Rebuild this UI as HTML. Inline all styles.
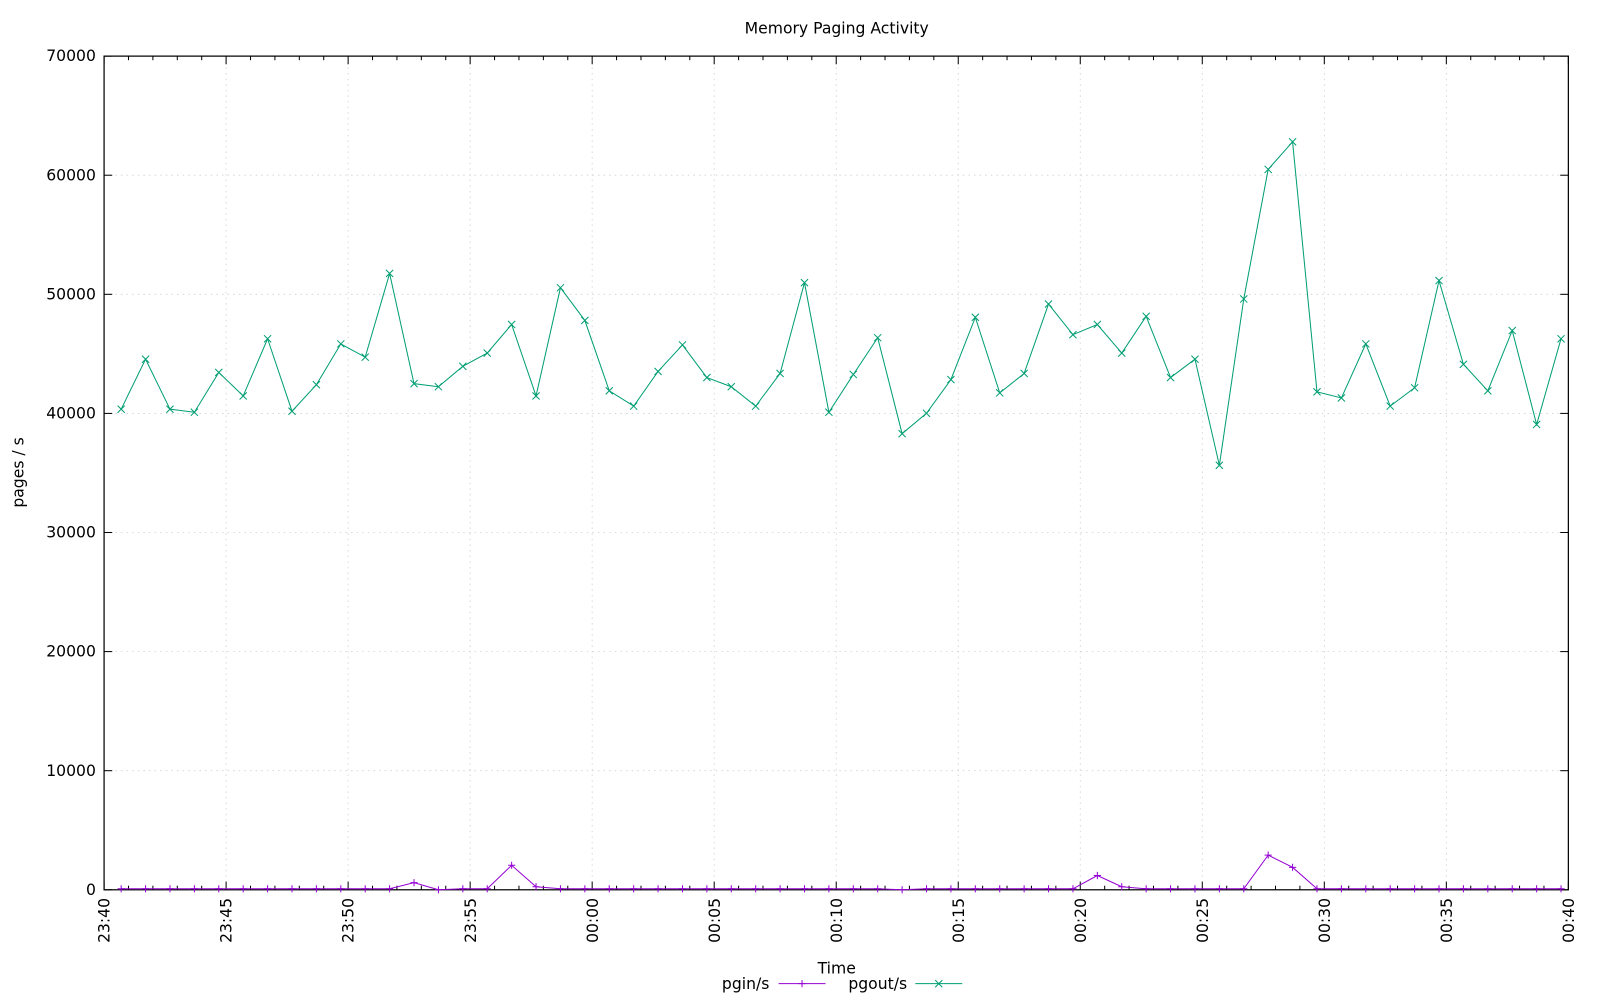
<!DOCTYPE html>
<html><head><meta charset="utf-8"><style>
html,body{margin:0;padding:0;background:#fff;}
svg{display:block;font-family:"DejaVu Sans","Liberation Sans",sans-serif;}
</style></head><body>
<svg id="s" width="1600" height="1000" xmlns="http://www.w3.org/2000/svg">
<rect width="1600" height="1000" fill="#fff"/>
<g id="g" transform="scale(1.0204)"></g>
</svg>
<script>
const NS="http://www.w3.org/2000/svg";
const g=document.getElementById('g');
function el(t,a,txt){const e=document.createElementNS(NS,t);for(const k in a)e.setAttribute(k,a[k]);if(txt!==undefined)e.textContent=txt;g.appendChild(e);return e;}
const L=102,R=1537,T=55,B=872;
const ppm=(R-L)/60;
const FS=15.3;
for(let i=1;i<7;i++){const y=B-i*(B-T)/7;el('line',{x1:L,x2:R,y1:y,y2:y,stroke:'#d0d0d0','stroke-width':0.8,'stroke-dasharray':'1.5,4'});}
for(let i=1;i<12;i++){const x=L+i*5*ppm;el('line',{x1:x,x2:x,y1:T,y2:B,stroke:'#d0d0d0','stroke-width':0.8,'stroke-dasharray':'1.5,4'});}
for(let i=0;i<=7;i++){const y=B-i*(B-T)/7;
 el('line',{x1:L,x2:L+8,y1:y,y2:y,stroke:'#000'});el('line',{x1:R,x2:R-8,y1:y,y2:y,stroke:'#000'});
 el('text',{x:L-8,y:y+5,'text-anchor':'end','font-size':FS},String(i*10000));}
const labs=['23:40','23:45','23:50','23:55','00:00','00:05','00:10','00:15','00:20','00:25','00:30','00:35','00:40'];
for(let m=0;m<=60;m++){const x=L+m*ppm;const len=m%5==0?8:4;
 el('line',{x1:x,x2:x,y1:B,y2:B-len,stroke:'#000'});el('line',{x1:x,x2:x,y1:T,y2:T+len,stroke:'#000'});
 if(m%5==0){el('text',{x:0,y:0,'text-anchor':'end','font-size':FS,transform:`translate(${x+5.5},${B+8}) rotate(-90)`},labs[m/5]);}}
el('rect',{x:L,y:T,width:R-L,height:B-T,fill:'none',stroke:'#000','stroke-width':1.2});
const py=[401,352,401,404,365,388,332,403,377,337,350,268,376,379,359,346,318,388,282,314,383,398,364,338,370,379,398,366,277,404,367,331,425,405,372,311,385,366,298,328,318,346,310,370,352,456,293,166,139,384,390,337,398,380,275,357,383,324,416,332];
const gin=py.map(()=>871);gin[12]=865;gin[16]=848;gin[17]=869;gin[40]=858;gin[41]=869;gin[47]=838;gin[48]=850;gin[13]=872;gin[32]=872;
const xs=py.map((_,i)=>L+(0.7+i)*ppm);
el('polyline',{points:xs.map((x,i)=>x+','+gin[i]).join(' '),fill:'none',stroke:'#9400d3','stroke-width':1});
el('polyline',{points:xs.map((x,i)=>x+','+py[i]).join(' '),fill:'none',stroke:'#009e73','stroke-width':1});
const s=3.5;
xs.forEach((x,i)=>{
 el('path',{d:`M${x-s},${gin[i]}h${2*s}M${x},${gin[i]-s}v${2*s}`,stroke:'#9400d3','stroke-width':1});
 el('path',{d:`M${x-s},${py[i]-s}l${2*s},${2*s}M${x-s},${py[i]+s}l${2*s},${-2*s}`,stroke:'#009e73','stroke-width':1});
});
el('text',{x:820,y:33,'text-anchor':'middle','font-size':FS},'Memory Paging Activity');
el('text',{x:820,y:954,'text-anchor':'middle','font-size':FS},'Time');
el('text',{x:0,y:0,'text-anchor':'middle','font-size':FS,transform:'translate(23,463) rotate(-90)'},'pages / s');
el('text',{x:754,y:969,'text-anchor':'end','font-size':FS},'pgin/s');
el('line',{x1:763,x2:809,y1:964,y2:964,stroke:'#9400d3'});
el('path',{d:`M${786-s},964h${2*s}M786,${964-s}v${2*s}`,stroke:'#9400d3'});
el('text',{x:889,y:969,'text-anchor':'end','font-size':FS},'pgout/s');
el('line',{x1:897,x2:943,y1:964,y2:964,stroke:'#009e73'});
el('path',{d:`M${920-s},${964-s}l${2*s},${2*s}M${920-s},${964+s}l${2*s},${-2*s}`,stroke:'#009e73'});
</script>
</body></html>
